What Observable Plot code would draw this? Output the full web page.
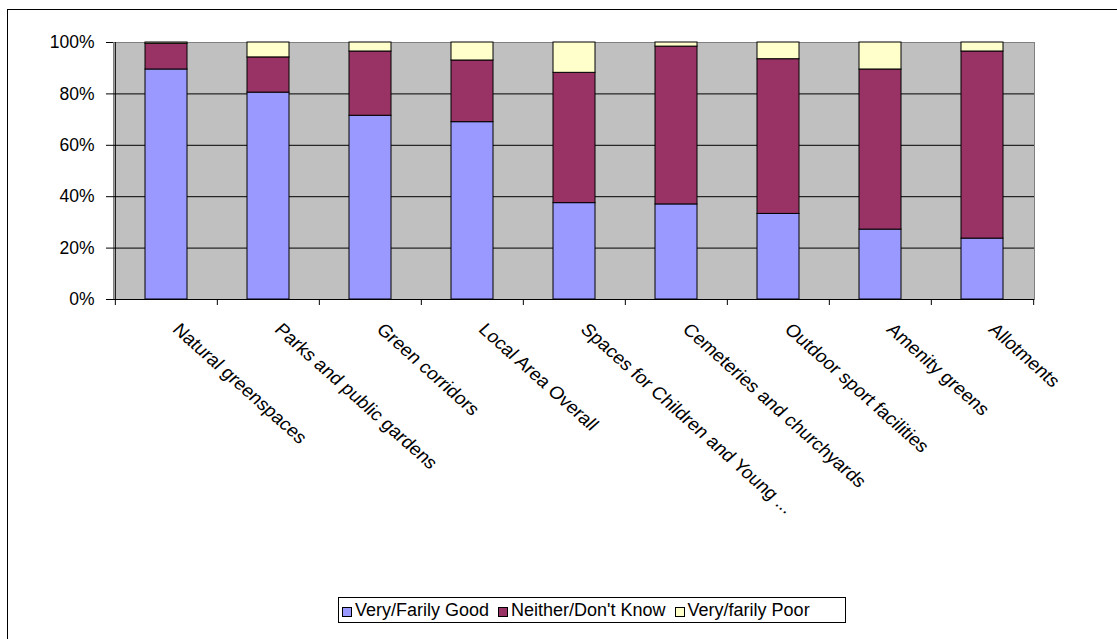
<!DOCTYPE html>
<html><head><meta charset="utf-8">
<script src="https://cdn.jsdelivr.net/npm/d3@7"></script>
<script src="https://cdn.jsdelivr.net/npm/@observablehq/plot@0.6"></script>
<style>
html,body{margin:0;padding:0;background:#fff;overflow:hidden;}
#wrap{position:relative;width:1117px;height:639px;font-family:Arial,"Liberation Sans",sans-serif;}
#frame{position:absolute;left:7px;top:9px;width:1300px;height:800px;border:1px solid #000;box-sizing:border-box;}
#chart{position:absolute;left:0;top:0;}
#legend{position:absolute;left:338px;top:597px;width:508px;height:26px;border:1px solid #000;box-sizing:border-box;background:#fff;
  display:flex;align-items:center;justify-content:flex-start;padding-left:3px;font-size:18px;color:#000;white-space:nowrap;}
#legend .item{display:flex;align-items:center;margin-right:9px;}
#legend .sw{width:8px;height:8px;border:1px solid #000;margin-right:3px;margin-top:3px;}
</style>
</head><body>
<div id="wrap"><div id="frame"></div><div id="chart"></div><div id="legend"></div></div>
<script>
const categories = ["Natural greenspaces","Parks and public gardens","Green corridors","Local Area Overall","Spaces for Children and Young ...","Cemeteries and churchyards","Outdoor sport facilities","Amenity greens","Allotments"];
const seriesNames = ["Very/Farily Good","Neither/Don't Know","Very/farily Poor"];
const seriesColors = ["#9999FF","#993366","#FFFFCC"];
const good    = [89.5, 80.5, 71.5, 69.0, 37.5, 37.0, 33.3, 27.2, 23.7];
const neither = [10.0, 13.7, 25.0, 24.0, 50.7, 61.4, 60.2, 62.3, 72.8];
const poor    = [0.5, 5.8, 3.5, 7.0, 11.8, 1.6, 6.5, 10.5, 3.5];
const yTicks = [0, 0.2, 0.4, 0.6, 0.8, 1.0];

const seriesValues = [good, neither, poor];
const rows = [];
seriesNames.forEach((s, si) => categories.forEach((c, ci) => rows.push({category: c, series: s, value: seriesValues[si][ci] / 100})));

const W = 1117, H = 639, mL = 113, mR = 83, mT = 42, mB = 340;
const bw = (W - mL - mR) / categories.length;

const plot = Plot.plot({
  width: W, height: H,
  marginLeft: mL, marginRight: mR, marginTop: mT, marginBottom: mB,
  style: {fontFamily: "Arial, 'Liberation Sans', sans-serif", fontSize: "17.5px", color: "#000", background: "transparent"},
  x: {type: "band", domain: categories, padding: 0, axis: null},
  y: {domain: [0, 1], axis: null},
  color: {domain: seriesNames, range: seriesColors},
  marks: [
    Plot.frame({fill: "#C0C0C0", stroke: "#808080"}),
    Plot.ruleY([0.2, 0.4, 0.6, 0.8], {stroke: "#000", strokeWidth: 1}),
    Plot.barY(rows, {x: "category", y: "value", fill: "series", stroke: "#000", strokeWidth: 1, insetLeft: 30, insetRight: 30}),
    Plot.ruleY([0], {stroke: "#000"}),
    Plot.ruleX([categories[0]], {x: d => d, dx: -bw / 2, stroke: "#000"}),
    Plot.ruleX(categories, {x: d => d, y1: 0, y2: 0, insetBottom: -6, dx: -bw / 2, stroke: "#000"}),
    Plot.ruleX([categories[categories.length - 1]], {x: d => d, y1: 0, y2: 0, insetBottom: -6, dx: bw / 2, stroke: "#000"}),
    Plot.axisY(yTicks, {label: null, tickSize: 7, tickPadding: 12, tickFormat: d3.format(".0%"), fontSize: 17.5, stroke: "#000", fill: "#000"}),
    Plot.text(categories, {x: d => d, frameAnchor: "bottom", text: d => d, rotate: 45, textAnchor: "start", lineAnchor: "bottom", dx: 5, dy: 31, fontSize: 17.5, fill: "#000", className: "xlab"})
  ]
});
document.getElementById("chart").appendChild(plot);
// the reference's rotated labels are stretched horizontally
d3.select(plot).selectAll(".xlab text").each(function() {
  const t = this.getAttribute("transform") || "";
  this.setAttribute("transform", t.replace("rotate(", "scale(1.12,1) rotate("));
});

const legend = document.getElementById("legend");
seriesNames.forEach((s, i) => {
  const item = document.createElement("div");
  item.className = "item";
  const sw = document.createElement("span");
  sw.className = "sw";
  sw.style.background = seriesColors[i];
  const t = document.createElement("span");
  t.textContent = s;
  item.appendChild(sw); item.appendChild(t);
  legend.appendChild(item);
});
</script>
</body></html>
